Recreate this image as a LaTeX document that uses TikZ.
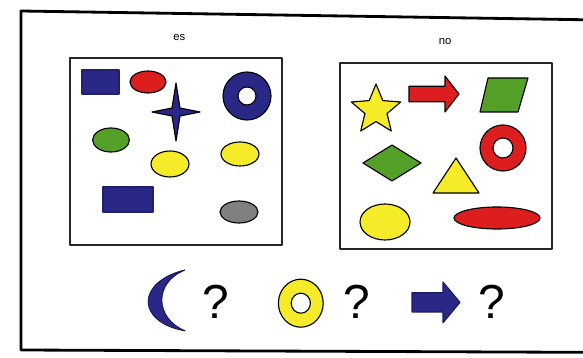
\documentclass[tikz,border=0pt]{standalone}
\usepackage{xcolor}
\usepackage{fontspec}
\setmainfont{Liberation Sans}
\usepackage{tikz}
\usetikzlibrary{arrows.meta, positioning}

\begin{document}
\begin{tikzpicture}[>=stealth, line join=round, every node/.style={align=center}]
      \definecolor{navy}{RGB}{42,40,135} \definecolor{shred}{RGB}{220,30,30}
      \definecolor{shgreen}{RGB}{85,160,40} \definecolor{shyellow}{RGB}{245,235,40}
      \tikzset{figure/.style={draw=black, line width=0.8pt}, panel/.style={draw=black!85, line width=1.3pt}}
      \useasboundingbox (0, 0) rectangle (14.575, 8.95);
      % outer frame
      \draw[line width=2pt] (15, 8.45) -- (0.525, 8.675) -- (0.525, 0.2) -- (15, 0.14);
      % labels
      \node[font=\fontsize{8}{9}\selectfont] (es) at (4.48, 8.01) {es};
      \node[font=\fontsize{8}{9}\selectfont] (no) at (11.125, 7.9) {no};
      % left panel
      \draw[panel] (1.75, 2.825) rectangle (7.05, 7.5);
      \draw[figure, fill=navy, draw=navy!80!black] (2.05, 6.6) rectangle (2.975, 7.2);
      \draw[figure, fill=shred] (3.7, 6.9) ellipse (0.45 and 0.275);
      \draw[figure, fill=navy] (4.4, 6.875) -- (4.5, 6.25) -- (5.0, 6.15) -- (4.5, 6.05)
            -- (4.4, 5.425) -- (4.3, 6.05) -- (3.8, 6.15) -- (4.3, 6.25) -- cycle;
      \draw[figure, fill=navy, even odd rule] (6.175, 6.55) circle (0.6) (6.175, 6.55) circle (0.225);
      \draw[figure, fill=shgreen] (2.775, 5.45) ellipse (0.46 and 0.3);
      \draw[figure, fill=shyellow] (4.25, 4.85) ellipse (0.475 and 0.325);
      \draw[figure, fill=shyellow] (6.0, 5.1) ellipse (0.475 and 0.3);
      \draw[figure, fill=navy, draw=navy!80!black] (2.575, 3.65) rectangle (3.825, 4.275);
      \draw[figure, fill=gray] (5.975, 3.65) ellipse (0.475 and 0.275);
      % right panel
      \draw[panel] (8.5, 2.725) rectangle (13.8, 7.375);
      \draw[figure, fill=shyellow] (9.4, 6.85)
            \foreach \k in {0,...,4} {-- ({9.4+0.29*cos(126+72*\k)}, {6.2+0.29*sin(126+72*\k)})
            -- ({9.4+0.65*cos(162+72*\k)}, {6.2+0.65*sin(162+72*\k)})} -- cycle;
      \draw[figure, fill=shred] (10.225, 6.405) -- (11.125, 6.405) -- (11.125, 6.15) -- (11.475, 6.6)
            -- (11.125, 7.05) -- (11.125, 6.795) -- (10.225, 6.795) -- cycle;
      \draw[figure, fill=shgreen] (12.2, 7.0) -- (13.2, 7.0) -- (12.95, 6.15) -- (12.0, 6.15) -- cycle;
      \draw[figure, fill=shred, even odd rule] (12.575, 5.25) circle (0.575) (12.575, 5.25) circle (0.25);
      \draw[figure, fill=shgreen] (9.075, 4.875) -- (9.8, 5.325) -- (10.525, 4.875) -- (9.8, 4.425) -- cycle;
      \draw[figure, fill=shyellow] (11.4, 5.0) -- (11.975, 4.125) -- (10.825, 4.125) -- cycle;
      \draw[figure, fill=shyellow] (9.625, 3.4) ellipse (0.625 and 0.45);
      \draw[figure, fill=shred] (12.425, 3.5) ellipse (1.075 and 0.275);
      % questions
      \draw[figure, fill=navy, draw=navy!70!black] (4.625, 2.2) .. controls (3.4, 1.9) and (3.4, 0.9) .. (4.625, 0.68)
            .. controls (3.85, 1.0) and (3.85, 1.9) .. (4.625, 2.2);
      \node[font=\fontsize{34}{40}\selectfont] (q1) at (5.4, 1.4) {?};
      \draw[figure, fill=shyellow, even odd rule] (7.52, 1.37) ellipse (0.56 and 0.6) (7.52, 1.37) ellipse (0.24 and 0.25);
      \node[font=\fontsize{34}{40}\selectfont] (q2) at (8.92, 1.4) {?};
      \draw[figure, fill=navy, draw=navy!70!black] (10.3, 1.15) -- (11.075, 1.15) -- (11.075, 0.88) -- (11.5, 1.39)
            -- (11.075, 1.9) -- (11.075, 1.63) -- (10.3, 1.63) -- cycle;
      \node[font=\fontsize{34}{40}\selectfont] (q3) at (12.29, 1.4) {?};
    \end{tikzpicture}
\end{document}
